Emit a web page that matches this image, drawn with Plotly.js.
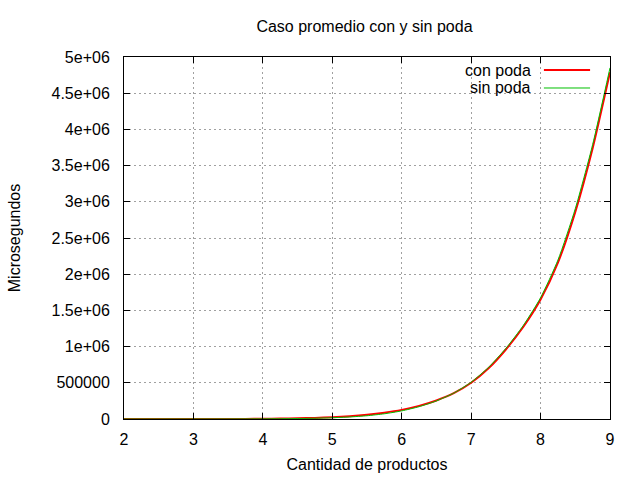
<!DOCTYPE html>
<html>
<head>
<meta charset="utf-8">
<script src="https://cdn.plot.ly/plotly-3.0.1.min.js"></script>
<style>html,body{margin:0;padding:0;background:#fff;}#chart{width:640px;height:480px;}</style>
</head>
<body>
<div id="chart"></div>
<script>
// Data
var productos = [2, 2.25, 2.5, 2.75, 3, 3.25, 3.5, 3.75, 4, 4.25, 4.5, 4.75, 5, 5.25, 5.5, 5.75, 6, 6.25, 6.5, 6.75, 7, 7.25, 7.5, 7.75, 8, 8.25, 8.5, 8.75, 9];
var conPoda = [0, 0, 50, 110, 240, 500, 950, 1700, 3200, 5600, 9400, 15400, 24500, 38000, 58000, 87000, 126000, 181000, 256000, 356000, 500000, 700000, 960000, 1270000, 1650000, 2160000, 2860000, 3740000, 4790000];
var sinPoda = [0, 0, 30, 70, 150, 320, 620, 1150, 2100, 3700, 6300, 10500, 17500, 28000, 45000, 72000, 112000, 170000, 250000, 358000, 508000, 712000, 975000, 1290000, 1675000, 2195000, 2905000, 3790000, 4850000];
var seriesNames = ['con poda', 'sin poda'];
var yTickVals = [0, 500000, 1000000, 1500000, 2000000, 2500000, 3000000, 3500000, 4000000, 4500000, 5000000];
var yTickText = ['0', '500000', '1e+06', '1.5e+06', '2e+06', '2.5e+06', '3e+06', '3.5e+06', '4e+06', '4.5e+06', '5e+06'];
var xTickVals = [2, 3, 4, 5, 6, 7, 8, 9];

var FONT = 'Liberation Sans, Arial, sans-serif';
var RED = '#ff0000', GREEN = '#00c000';

var traces = [
  {x: productos, y: conPoda, name: seriesNames[0], mode: 'lines', type: 'scatter',
   line: {color: RED, width: 2, shape: 'spline', smoothing: 0.6}},
  {x: productos, y: sinPoda, name: seriesNames[1], mode: 'lines', type: 'scatter',
   line: {color: GREEN, width: 1, shape: 'spline', smoothing: 0.6}}
];

var axisCommon = {
  showline: true, linecolor: '#000', linewidth: 1, mirror: 'ticks',
  ticks: 'inside', ticklen: 6, tickcolor: '#000', tickwidth: 1,
  showgrid: true, gridcolor: '#a0a0a0', gridwidth: 1, griddash: '2px,3px',
  zeroline: false, tickfont: {family: FONT, size: 16, color: '#000'}
};

var layout = {
  width: 640, height: 480,
  margin: {l: 124, r: 30, t: 57, b: 61},
  paper_bgcolor: '#fff', plot_bgcolor: '#fff',
  showlegend: false,
  font: {family: FONT, size: 16, color: '#000'},
  title: {text: 'Caso promedio con y sin poda', font: {family: FONT, size: 16, color: '#000'},
          xref: 'container', x: 0.5695, xanchor: 'center', yref: 'container', y: 0.944, yanchor: 'middle'},
  xaxis: Object.assign({}, axisCommon, {
    range: [2, 9], tickvals: xTickVals, ticklabelstandoff: 6,
    title: {text: 'Cantidad de productos', font: {family: FONT, size: 16, color: '#000'}, standoff: 11}
  }),
  yaxis: Object.assign({}, axisCommon, {
    range: [0, 5000000], tickvals: yTickVals, ticktext: yTickText, ticklabelstandoff: 10,
    title: {text: 'Microsegundos', font: {family: FONT, size: 16, color: '#000'}, standoff: 26}
  }),
  annotations: [
    {xref: 'paper', yref: 'paper', x: 0.8416, y: 0.964, xanchor: 'right', yanchor: 'middle',
     text: seriesNames[0], showarrow: false, font: {family: FONT, size: 16, color: '#000'}},
    {xref: 'paper', yref: 'paper', x: 0.8416, y: 0.9144, xanchor: 'right', yanchor: 'middle',
     text: seriesNames[1], showarrow: false, font: {family: FONT, size: 16, color: '#000'}}
  ],
  shapes: [
    {type: 'line', xref: 'paper', yref: 'paper', x0: 0.864, x1: 0.959, y0: 0.964, y1: 0.964,
     line: {color: RED, width: 2}},
    {type: 'line', xref: 'paper', yref: 'paper', x0: 0.864, x1: 0.959, y0: 0.9144, y1: 0.9144,
     line: {color: GREEN, width: 1}}
  ]
};

Plotly.newPlot('chart', traces, layout, {staticPlot: true, displayModeBar: false});
</script>
</body>
</html>
